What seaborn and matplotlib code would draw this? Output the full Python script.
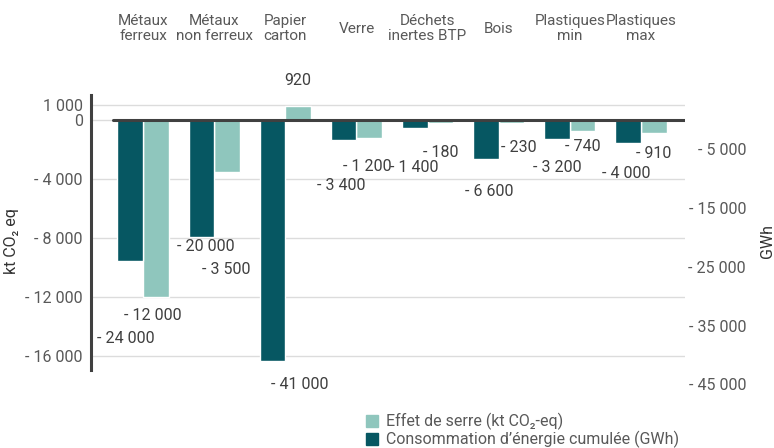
import matplotlib
matplotlib.use('Agg')
import matplotlib.pyplot as plt
from matplotlib.patches import Patch
import pandas as pd
import seaborn as sns

# data
categories = ['Métaux\nferreux', 'Métaux\nnon ferreux', 'Papier\ncarton', 'Verre',
              'Déchets\ninertes BTP', 'Bois', 'Plastiques\nmin', 'Plastiques\nmax']
ghg_kt = [-12000, -3500, 920, -1200, -180, -230, -740, -910]
energy_gwh = [-24000, -20000, -41000, -3400, -1400, -6600, -3200, -4000]

ghg_name = 'Effet de serre (kt CO₂-eq)'
energy_name = 'Consommation d’énergie cumulée (GWh)'
left_ticks = [1000, 0, -4000, -8000, -12000, -16000]
right_ticks = [-5000, -15000, -25000, -35000, -45000]

# label offsets in pixels (dx, dy down) relative to the bar end
ghg_label_off = [(-3, 18), (-1, 98), (0, -26), (-2, 29), (0, 30), (7, 24), (0, 16), (0, 20)]
energy_label_off = [(-4, 77), (4, 9), (27, 24), (-2, 46), (0, 39), (3, 33), (0, 29), (-2, 30)]

light = '#8fc6bd'
dark = '#065762'
grey = '#595959'

df = pd.DataFrame({
    'cat': categories * 2,
    'serie': [energy_name] * len(categories) + [ghg_name] * len(categories),
    'val': energy_gwh + ghg_kt,
})

sns.set_style('white')
plt.rcParams['font.family'] = ['Roboto', 'DejaVu Sans']

W, H = 774, 448
fig = plt.figure(figsize=(W / 100, H / 100), dpi=100)
ax = fig.add_axes([91 / W, (H - 385) / H, 594 / W, 295 / H])
ax2 = ax.twinx()

pal = {energy_name: dark, ghg_name: light}
hue_order = [energy_name, ghg_name]
# each axis gets both series for the dodge, then keeps only its own one
sns.barplot(data=df, x='cat', y='val', hue='serie', hue_order=hue_order, order=categories,
            palette=pal, width=0.72, saturation=1, errorbar=None, legend=False, ax=ax)
sns.barplot(data=df, x='cat', y='val', hue='serie', hue_order=hue_order, order=categories,
            palette=pal, width=0.72, saturation=1, errorbar=None, legend=False, ax=ax2)
for p in ax.containers[0]:
    p.set_visible(False)
for p in ax2.containers[1]:
    p.set_visible(False)

ax.set_xlim(-0.731, 7.619)
ax.set_ylim(-17966, 2034)
ax2.set_ylim(-45106, 5106)

def fmt(v, pos=None):
    if v == 0:
        return '0'
    s = f'{abs(v):,.0f}'.replace(',', ' ')
    return s if v > 0 else '- ' + s

fs = 11.5

# left axis
ax.set_yticks(left_ticks)
ax.yaxis.set_major_formatter(plt.FuncFormatter(fmt))
ax.tick_params(axis='y', length=0, pad=6, labelsize=fs, labelcolor=grey)
ax.yaxis.grid(True, color='#dcdcdc', lw=1)
ax.set_axisbelow(True)
for s in ['top', 'right', 'bottom']:
    ax.spines[s].set_visible(False)
ax.spines['left'].set_color('#404040')
ax.spines['left'].set_linewidth(2.2)
ax.spines['left'].set_bounds(-16949, 1695)
ax.set_ylabel('kt CO₂ eq', fontsize=fs, color='#333333')
ax.yaxis.set_label_coords(-0.122, 0.488)

# categories on top
ax.set_xlabel('')
ax.tick_params(axis='x', top=True, bottom=False, labeltop=True, labelbottom=False,
               length=0, pad=44, labelsize=11, labelcolor=grey)
for lab in ax.get_xticklabels():
    lab.set_va('center')
    lab.set_linespacing(1.1)

# right axis
ax2.set_yticks(right_ticks)
ax2.yaxis.set_major_formatter(plt.FuncFormatter(fmt))
ax2.tick_params(axis='y', length=0, pad=44, labelsize=fs, labelcolor=grey)
for lab in ax2.get_yticklabels():
    lab.set_ha('right')
for s in ax2.spines.values():
    s.set_visible(False)
ax2.set_ylabel('GWh', fontsize=fs, color='#333333', rotation=90)
ax2.yaxis.set_label_coords(1.126, 0.488)
ax2.grid(False)

# zero line over the bars
ax2.axhline(0, xmin=22 / 594, xmax=1, color='#404040', lw=2.2, zorder=5)

# value labels
px = 0.72
for i, v in enumerate(ghg_kt):
    dx, dy = ghg_label_off[i]
    ax.annotate(fmt(v), xy=(i + 0.18, v), xytext=(dx * px, -dy * px), textcoords='offset points',
                ha='center', va='center', fontsize=fs, color='#404040', zorder=6)
for i, v in enumerate(energy_gwh):
    dx, dy = energy_label_off[i]
    ax2.annotate(fmt(v), xy=(i - 0.18, v), xytext=(dx * px, -dy * px), textcoords='offset points',
                 ha='center', va='center', fontsize=fs, color='#404040', zorder=6,
                 annotation_clip=False)

# legend
handles = [Patch(color=light), Patch(color=dark)]
fig.legend(handles, [ghg_name, energy_name], loc='upper left',
           bbox_to_anchor=(358 / W, 1 - 405 / H), frameon=False,
           handlelength=0.75, handleheight=0.75, handletextpad=0.5,
           labelspacing=0.05, borderpad=0, fontsize=fs, labelcolor=grey)

fig.savefig('out.png', dpi=100)
